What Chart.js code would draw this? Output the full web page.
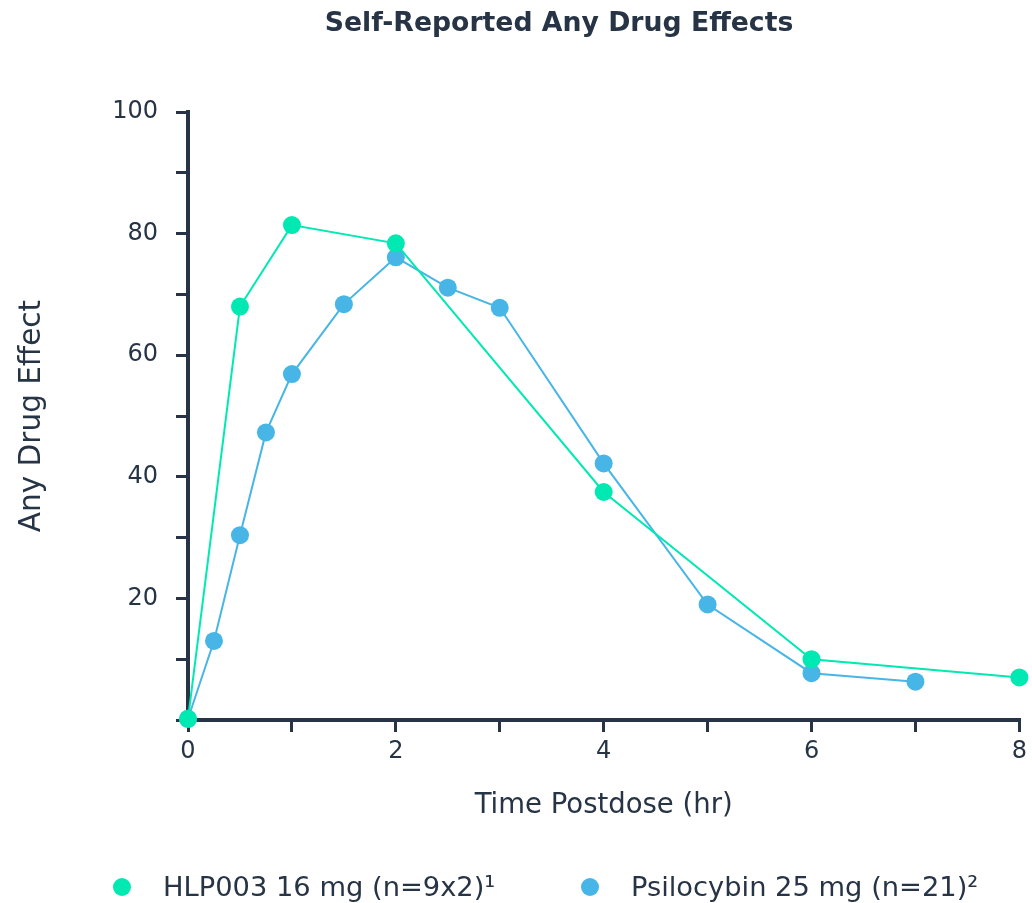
<!DOCTYPE html>
<html><head><meta charset="utf-8">
<script src="https://cdn.jsdelivr.net/npm/chart.js@4/dist/chart.umd.min.js"></script>
<style>html,body{margin:0;padding:0;background:#fff;}#wrap{width:1032px;height:903px;}</style>
</head><body><div id="wrap"><canvas id="c" width="1032" height="903"></canvas></div>
<script>
const chartTitle = 'Self-Reported Any Drug Effects';
const xTitle = 'Time Postdose (hr)';
const yTitle = 'Any Drug Effect';
const seriesNames = ['HLP003 16 mg (n=9x2)\u00B9', 'Psilocybin 25 mg (n=21)\u00B2'];
const hlpTimes = [0, 0.5, 1, 2, 4, 6, 8];
const hlpValues = [0.2, 68.0, 81.4, 78.4, 37.5, 10.0, 7.0];
const psiTimes = [0, 0.25, 0.5, 0.75, 1, 1.5, 2, 2.5, 3, 4, 5, 6, 7];
const psiValues = [0.2, 13.0, 30.4, 47.3, 56.9, 68.4, 76.1, 71.1, 67.8, 42.2, 19.0, 7.7, 6.3];
const xTickLabels = [0, 2, 4, 6, 8];
const yTickLabels = [20, 40, 60, 80, 100];

const INK = '#263445';
const GREEN = '#00E9B2';
const BLUE = '#47B6E6';
const FONT = '"DejaVu Sans", "Noto Sans", sans-serif';

const toPts = (xs, ys) => xs.map((x, i) => ({x, y: ys[i]}));

const titlePlugin = {
  id: 'customTitle',
  afterDraw(chart) {
    const ctx = chart.ctx;
    ctx.save();
    ctx.fillStyle = INK;
    ctx.font = 'bold 26.7px ' + FONT;
    ctx.textAlign = 'center';
    ctx.textBaseline = 'alphabetic';
    ctx.fillText(chartTitle, 559, 31);
    ctx.restore();
  }
};

const legendPlugin = {
  id: 'customLegend',
  afterDraw(chart) {
    const ctx = chart.ctx;
    const dotX = [122, 590];
    const dotY = 887;
    ctx.save();
    ctx.font = '27.3px ' + FONT;
    ctx.textBaseline = 'alphabetic';
    ctx.textAlign = 'left';
    chart.data.datasets.forEach((ds, i) => {
      ctx.fillStyle = ds.backgroundColor;
      ctx.beginPath();
      ctx.arc(dotX[i], dotY, 9, 0, Math.PI * 2);
      ctx.fill();
      ctx.fillStyle = INK;
      ctx.fillText(ds.label, dotX[i] + 41, 896);
    });
    ctx.restore();
  }
};

new Chart(document.getElementById('c'), {
  type: 'line',
  data: {
    datasets: [
      {label: seriesNames[0], data: toPts(hlpTimes, hlpValues), borderColor: GREEN, backgroundColor: GREEN,
       borderWidth: 2, pointRadius: 9, pointHoverRadius: 9, pointBorderWidth: 0, tension: 0, clip: false},
      {label: seriesNames[1], data: toPts(psiTimes, psiValues), borderColor: BLUE, backgroundColor: BLUE,
       borderWidth: 2, pointRadius: 9, pointHoverRadius: 9, pointBorderWidth: 0, tension: 0, clip: false}
    ]
  },
  options: {
    responsive: false,
    animation: false,
    devicePixelRatio: 1,
    layout: {padding: {top: 112, right: 7, bottom: 69, left: 0}},
    plugins: {legend: {display: false}, title: {display: false}, tooltip: {enabled: false}},
    scales: {
      x: {
        type: 'linear', min: 0, max: 8,
        afterFit: s => { s.height = 114; },
        border: {display: true, color: INK, width: 4},
        grid: {drawOnChartArea: false, drawTicks: true, tickLength: 12, color: INK, lineWidth: 3},
        ticks: {stepSize: 1, color: INK, padding: 5, font: {family: FONT, size: 24},
                callback: v => xTickLabels.includes(v) ? String(v) : ''},
        title: {display: true, text: xTitle, color: INK, font: {family: FONT, size: 27.5}, padding: {top: 0, bottom: 12}}
      },
      y: {
        type: 'linear', min: 0, max: 100,
        afterFit: s => { s.width = 188; },
        border: {display: true, color: INK, width: 4},
        grid: {drawOnChartArea: false, drawTicks: true, tickLength: 12, color: INK, lineWidth: 3},
        ticks: {stepSize: 10, color: INK, padding: 18, font: {family: FONT, size: 24},
                callback: v => yTickLabels.includes(v) ? String(v) : ''},
        title: {display: true, text: yTitle, color: INK, font: {family: FONT, size: 29.5}, padding: {top: 15, bottom: 0}}
      }
    }
  },
  plugins: [titlePlugin, legendPlugin]
});
</script></body></html>
